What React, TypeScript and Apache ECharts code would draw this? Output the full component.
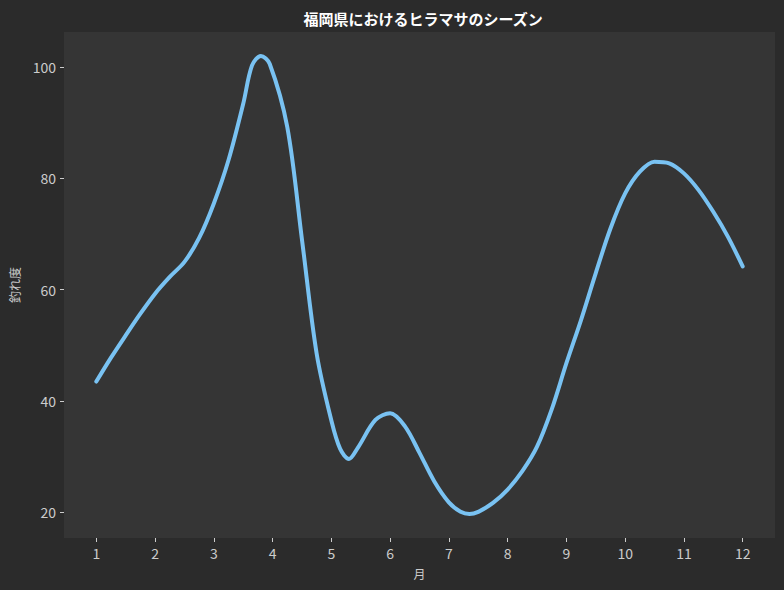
import React, { useEffect, useRef } from 'react';
import * as echarts from 'echarts';

// 月 (x) and 釣れ度 (y) (quarter months, denser near turns)
const months = [
  1, 1.25, 1.5, 1.75, 2, 2.25, 2.5, 2.75, 3, 3.25, 3.5, 3.65, 3.8, 3.95, 4.25,
  4.5, 4.75, 5, 5.15, 5.3, 5.45, 5.75, 6, 6.25, 6.5, 6.75, 7, 7.2, 7.35, 7.5, 7.75,
  8, 8.25, 8.5, 8.75, 9, 9.25, 9.5, 9.75, 10, 10.25, 10.5, 10.75, 11, 11.25, 11.5,
  11.75, 12,
];
const catchRate = [
  43.5, 47.8, 51.8, 55.7, 59.3, 62.3, 65.0, 69.3, 75.5, 83.3, 93.4, 100.3, 102.0, 100.6, 89.2,
  69.0, 48.5, 36.5, 31.4, 29.6, 31.6, 36.6, 37.8, 35.5, 30.7, 25.6, 21.8, 20.1, 19.7, 20.1, 21.7,
  24.1, 27.4, 31.8, 38.5, 46.8, 54.6, 63.0, 71.0, 77.3, 81.2, 83.0, 82.7, 80.9, 77.9, 74.0,
  69.5, 64.2,
];
const monthTicks = [1, 2, 3, 4, 5, 6, 7, 8, 9, 10, 11, 12];
const rateTicks = [20, 40, 60, 80, 100];

const tickFont = "'Liberation Sans Narrow', 'Noto Sans CJK JP', sans-serif";
const cjkFont = "'Noto Sans CJK JP', sans-serif";

export default function App() {
  const chartRef = useRef<HTMLDivElement>(null);

  useEffect(() => {
    if (!chartRef.current) return;
    const chart = echarts.init(chartRef.current, null, { renderer: 'svg' });

    chart.setOption({
      animation: false,
      backgroundColor: '#2b2b2b',
      title: {
        text: '福岡県におけるヒラマサのシーズン',
        left: 418,
        top: 6,
        textAlign: 'center',
        textStyle: { color: '#ffffff', fontSize: 15, fontWeight: 'bold', fontFamily: cjkFont },
      },
      grid: {
        left: 61,
        right: 9,
        top: 32,
        bottom: 52,
        show: true,
        backgroundColor: '#353535',
        borderWidth: 0,
      },
      xAxis: {
        type: 'value',
        min: 0.45,
        max: 12.55,
        name: '月',
        nameLocation: 'middle',
        nameGap: 29,
        nameTextStyle: { color: '#cccccc', fontSize: 12, fontFamily: cjkFont },
        axisLine: { show: false },
        axisTick: {
          show: true,
          length: 4,
          lineStyle: { color: '#cccccc' },
          customValues: monthTicks,
        },
        axisLabel: {
          color: '#cccccc',
          fontSize: 14,
          fontFamily: tickFont,
          margin: 8,
          customValues: monthTicks,
        },
        splitLine: { show: false },
      },
      yAxis: {
        type: 'value',
        min: 15.4,
        max: 106.3,
        name: '釣れ度',
        nameLocation: 'middle',
        nameRotate: 90,
        nameGap: 44,
        nameTextStyle: { color: '#cccccc', fontSize: 12, fontFamily: cjkFont },
        axisLine: { show: false },
        axisTick: {
          show: true,
          length: 4,
          lineStyle: { color: '#cccccc' },
          customValues: rateTicks,
        },
        axisLabel: {
          color: '#cccccc',
          fontSize: 14,
          fontFamily: tickFont,
          margin: 8,
          customValues: rateTicks,
        },
        splitLine: { show: false },
      },
      series: [
        {
          type: 'line',
          data: months.map((m, i) => [m, catchRate[i]]),
          smooth: 0.33,
          showSymbol: false,
          lineStyle: { color: '#79c2f2', width: 4, cap: 'round' },
        },
      ],
    });

    return () => chart.dispose();
  }, []);

  return (
    <div
      ref={chartRef}
      style={{ position: 'absolute', left: 0, top: 0, width: '784px', height: '590px' }}
    />
  );
}
